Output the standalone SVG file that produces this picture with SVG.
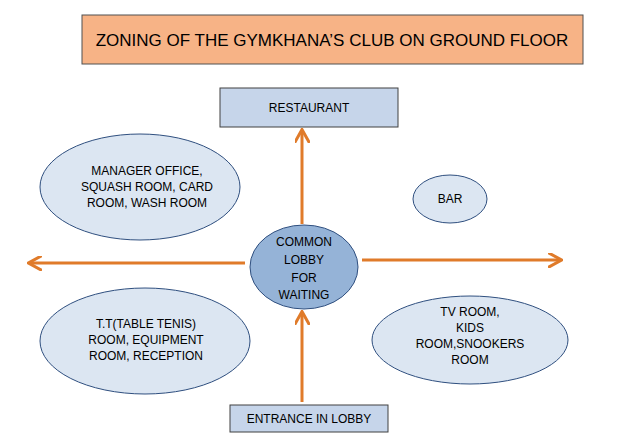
<svg xmlns="http://www.w3.org/2000/svg" width="638" height="442" viewBox="0 0 638 442">
<style>
text{font-family:"Liberation Sans",Arial,sans-serif;font-size:12px;fill:#000;text-anchor:middle}
.box{fill:#c6d5ea;stroke:#404040;stroke-width:1}
.el{fill:#dce6f2;stroke:#2f4f7f;stroke-width:1}
.arr{stroke:#e07b2a;stroke-width:3;fill:none}
</style>
<defs><marker id="ah" viewBox="0 0 10 10" refX="8" refY="5" markerWidth="5" markerHeight="5" orient="auto"><path d="M0,0 L9,5 L0,10" fill="none" stroke="#e07b2a" stroke-width="2"/></marker></defs>
<rect width="638" height="442" fill="#fff"/>
<g id="title"><rect x="82" y="15" width="501" height="49" fill="#f7b386" stroke="#505050"/><text x="332" y="46" style="font-size:17px">ZONING OF THE GYMKHANA’S CLUB ON GROUND FLOOR</text></g>
<g id="connectors">
<line class="arr" x1="302" y1="224" x2="302" y2="131" marker-end="url(#ah)"/>
<line class="arr" x1="245" y1="263" x2="30" y2="263" marker-end="url(#ah)"/>
<line class="arr" x1="362" y1="260" x2="560" y2="260" marker-end="url(#ah)"/>
<line class="arr" x1="302" y1="402" x2="302" y2="313" marker-end="url(#ah)"/>
</g>
<g id="restaurant"><rect class="box" x="220" y="88" width="178" height="39"/><text x="309" y="112">RESTAURANT</text></g>
<g id="entrance"><rect class="box" x="230" y="405" width="158" height="27"/><text x="309" y="423">ENTRANCE IN LOBBY</text></g>
<g id="lobby"><ellipse cx="304" cy="267" rx="54" ry="42" fill="#95b3d7" stroke="#2f4f7f"/><text x="304" y="246">COMMON</text><text x="304" y="264">LOBBY</text><text x="304" y="282">FOR</text><text x="304" y="299">WAITING</text></g>
<g id="manager"><ellipse class="el" cx="140" cy="187" rx="100" ry="53"/><text x="147" y="175">MANAGER OFFICE,</text><text x="147" y="191">SQUASH ROOM, CARD</text><text x="147" y="207">ROOM, WASH ROOM</text></g>
<g id="bar"><ellipse class="el" cx="450" cy="199" rx="37" ry="24"/><text x="450" y="203">BAR</text></g>
<g id="tt"><ellipse class="el" cx="145" cy="341" rx="105" ry="53"/><text x="146" y="328">T.T(TABLE TENIS)</text><text x="146" y="344">ROOM, EQUIPMENT</text><text x="146" y="360">ROOM, RECEPTION</text></g>
<g id="tv"><ellipse class="el" cx="470" cy="340" rx="98" ry="44"/><text x="470" y="316">TV ROOM,</text><text x="470" y="332">KIDS</text><text x="470" y="348">ROOM,SNOOKERS</text><text x="470" y="364">ROOM</text></g>
</svg>
